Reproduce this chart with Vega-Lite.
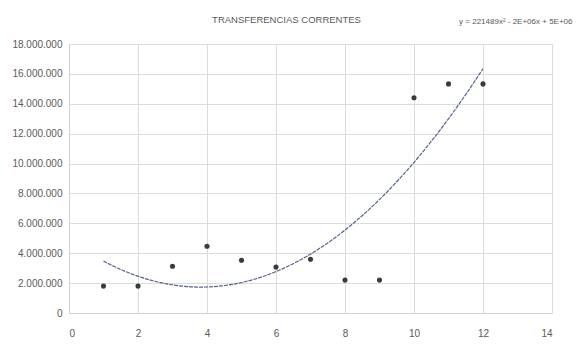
{
  "$schema": "https://vega.github.io/schema/vega-lite/v6.json",
  "width": 483,
  "height": 269,
  "autosize": "none",
  "padding": {"left": 69, "top": 44, "right": 27, "bottom": 33},
  "background": "white",
  "config": {
    "locale": {"number": {"decimal": ",", "thousands": ".", "grouping": [3], "currency": ["", ""]}},
    "view": {"stroke": null},
    "font": "Liberation Sans"
  },
  "title": {
    "text": "TRANSFERENCIAS CORRENTES",
    "anchor": "middle",
    "dx": -24,
    "offset": -6,
    "fontSize": 9.5,
    "fontWeight": "normal",
    "color": "#595959",
    "font": "Liberation Sans"
  },
  "datasets": {
    "points": [
      {"x": 1, "y": 1800000},
      {"x": 2, "y": 1800000},
      {"x": 3, "y": 3130000},
      {"x": 4, "y": 4470000},
      {"x": 5, "y": 3530000},
      {"x": 6, "y": 3070000},
      {"x": 7, "y": 3600000},
      {"x": 8, "y": 2200000},
      {"x": 9, "y": 2200000},
      {"x": 10, "y": 14400000},
      {"x": 11, "y": 15330000},
      {"x": 12, "y": 15330000}
    ],
    "label": [
      {"x": 12.95, "y": 19450000, "text": "y = 221489x² - 2E+06x + 5E+06"}
    ]
  },
  "encoding": {
    "x": {
      "field": "x", "type": "quantitative",
      "scale": {"domain": [0, 14], "nice": false, "zero": false},
      "axis": {
        "title": null, "values": [0, 2, 4, 6, 8, 10, 12, 14],
        "grid": true, "gridColor": "#dcdcdc", "gridWidth": 1,
        "domain": true, "domainColor": "#d0d0d0", "ticks": false,
        "labelPadding": 15, "labelFontSize": 10, "labelColor": "#595959",
        "labelFont": "Liberation Sans", "labelOverlap": false
      }
    },
    "y": {
      "field": "y", "type": "quantitative",
      "scale": {"domain": [0, 18000000], "nice": false},
      "axis": {
        "title": null, "values": [0, 2000000, 4000000, 6000000, 8000000, 10000000, 12000000, 14000000, 16000000, 18000000],
        "format": ",d",
        "grid": true, "gridColor": "#dcdcdc", "gridWidth": 1,
        "domain": true, "domainColor": "#d0d0d0", "ticks": false,
        "labelPadding": 7, "labelFontSize": 10, "labelColor": "#595959",
        "labelFont": "Liberation Sans", "labelOverlap": false
      }
    }
  },
  "layer": [
    {
      "data": {"name": "points"},
      "mark": {"type": "point", "filled": true, "size": 26, "color": "#3a3a3a", "opacity": 1}
    },
    {
      "data": {"name": "points"},
      "transform": [
        {"regression": "y", "on": "x", "method": "poly", "order": 2}
      ],
      "mark": {"type": "line", "color": "#56628f", "strokeWidth": 1.2, "strokeDash": [4, 1]}
    },
    {
      "data": {"name": "label"},
      "mark": {"type": "text", "clip": false, "fontSize": 8, "color": "#595959", "align": "center", "baseline": "middle", "font": "Liberation Sans"},
      "encoding": {
        "text": {"field": "text"}
      }
    }
  ]
}
